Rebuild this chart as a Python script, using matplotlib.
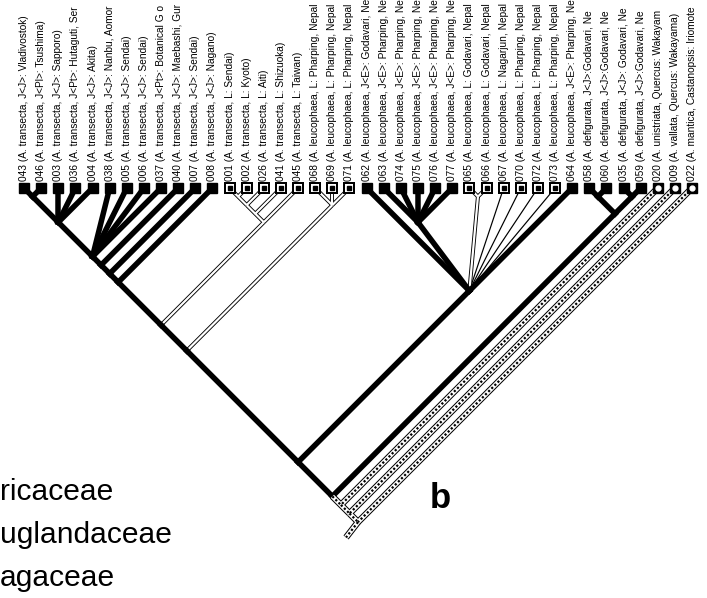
import numpy as np
import matplotlib.pyplot as plt

# leaves, left to right
ids = ['043', '046', '003', '036', '004', '038', '005', '006', '037', '040',
       '007', '008', '001', '002', '026', '041', '045', '068', '069', '071',
       '062', '063', '074', '075', '076', '077', '065', '066', '067', '070',
       '072', '073', '064', '058', '060', '035', '059', '020', '009', '022']
desc = ['A. transecta, J<J>: Vladivostok)', 'A. transecta, J<Pl>: Tsushima)',
        'A. transecta, J<J>: Sapporo)', 'A. transecta, J<Pt>: Hutaguti, Ser',
        'A. transecta, J<J>: Akita)', 'A. transecta, J<J>: Nanbu, Aomor',
        'A. transecta, J<J>: Sendai)', 'A. transecta, J<J>: Sendai)',
        'A. transecta, J<Pt>: Botanical G o', 'A. transecta, J<J>: Maebashi, Gur',
        'A. transecta, J<J>: Sendai)', 'A. transecta, J<J>: Nagano)',
        'A. transecta, L: Sendai)', 'A. transecta, L: Kyoto)',
        'A. transecta, L: Aiti)', 'A. transecta, L: Shizuoka)',
        'A. transecta, L: Taiwan)', 'A. leucophaea, L: Pharping, Nepal',
        'A. leucophaea, L: Pharping, Nepal', 'A. leucophaea, L: Pharping, Nepal',
        'A. leucophaea, J<E>: Godavari, Ne', 'A. leucophaea, J<E>: Pharping, Ne',
        'A. leucophaea, J<E>: Pharping, Ne', 'A. leucophaea, J<E>: Pharping, Ne',
        'A. leucophaea, J<E>: Pharping, Ne', 'A. leucophaea, J<E>: Pharping, Ne',
        'A. leucophaea, L: Godavari, Nepal', 'A. leucophaea, L: Godavari, Nepal',
        'A. leucophaea, L: Nagarjun, Nepal', 'A. leucophaea, L: Pharping, Nepal',
        'A. leucophaea, L: Pharping, Nepal', 'A. leucophaea, L: Pharping, Nepal',
        'A. leucophaea, J<E>: Pharping, Ne', 'A. defigurata, J<J>:Godavari, Ne',
        'A. defigurata, J<J>:Godavari, Ne', 'A. defigurata, J<J>: Godavari, Ne',
        'A. defigurata, J<J>:Godavari, Ne', 'A. unistriata, Quercus: Wakayam',
        'A. vallata, Quercus: Wakayama)', 'A. mantica, Castanopsis: Iriomote']

# topology
clade_a = '((043,046),003,036,004)'
clade_e = '((((' + clade_a + ',038,005,006,037),040),007),008)'
clade_tl = '((((001,002),026),041),045)'
clade_lp = '(068,069,071)'
clade_lj = '(062,(063,074,075,076,077),(065,066),067,070,072,073,064)'
clade_df = '((058,060),(035,059))'
ingroup = '((((' + clade_e + ',' + clade_tl + '),' + clade_lp + '),' + clade_lj + '),' + clade_df + ')'
newick = '(((' + ingroup + ',020),009),022)'

hollow = {'001', '002', '026', '041', '045', '068', '069', '071', '065', '066'}
thin = {'067', '070', '072', '073'}
checker = {'020', '009', '022'}

families = ['ricaceae', 'uglandaceae', 'agaceae']


def parse(s, i=0):
    if s[i] == '(':
        kids = []
        i += 1
        while True:
            k, i = parse(s, i)
            kids.append(k)
            if s[i] == ',':
                i += 1
            else:
                i += 1
                break
        return kids, i
    j = i
    while j < len(s) and s[j] not in ',()':
        j += 1
    return s[i:j], j


def leaves(node):
    if isinstance(node, str):
        return [node]
    out = []
    for k in node:
        out += leaves(k)
    return out


def pos(node):
    idx = [ids.index(n) for n in leaves(node)]
    l, r = min(idx), max(idx)
    return (l + r) / 2.0, (r - l) / 2.0


def style(node, parent):
    lv = set(leaves(node))
    if lv <= checker or (set(leaves(parent)) & checker):
        return 'checker'
    if lv <= hollow:
        return 'hollow'
    if lv <= thin:
        return 'thin'
    return 'thick'


tree, _ = parse(newick)
edges = []


def walk(node):
    if isinstance(node, str):
        return
    for k in node:
        edges.append((pos(k), pos(node), style(k, node)))
        walk(k)


walk(tree)
rx, rd = pos(tree)
edges.append(((rx, rd), (rx - 0.7, rd + 0.9), 'checker'))

W, H = 707, 598
u = 17.13
fig = plt.figure(figsize=(W / 100, H / 100), dpi=100)
ax = fig.add_axes([0, 0, 1, 1])
ax.set_xlim(-24 / u, (W - 24) / u)
ax.set_ylim((H - 188) / u, -188 / u)
ax.axis('off')

px = 72 / 100
for (a, b, st) in edges:
    xs, ys = [a[0], b[0]], [a[1], b[1]]
    if st == 'thick':
        ax.plot(xs, ys, color='black', lw=5.5 * px, solid_capstyle='projecting', zorder=3)
    elif st == 'thin':
        ax.plot(xs, ys, color='black', lw=1.2 * px, zorder=2)
for (a, b, st) in edges:
    xs, ys = [a[0], b[0]], [a[1], b[1]]
    if st == 'hollow':
        ax.plot(xs, ys, color='black', lw=4 * px, solid_capstyle='butt', zorder=2)
for (a, b, st) in edges:
    xs, ys = [a[0], b[0]], [a[1], b[1]]
    if st == 'hollow':
        ax.plot(xs, ys, color='white', lw=2.2 * px, solid_capstyle='butt', zorder=2.1)
for (a, b, st) in edges:
    xs, ys = [a[0], b[0]], [a[1], b[1]]
    if st == 'checker':
        ax.plot(xs, ys, color='black', lw=6.5 * px, solid_capstyle='butt', zorder=4)
        ax.plot(xs, ys, color='white', lw=4.5 * px, solid_capstyle='butt', zorder=4.1)
        ax.plot(xs, ys, color='black', lw=2.2 * px, dashes=(1, 1), solid_capstyle='butt', zorder=4.2)

# leaf boxes and labels
for i, (n, d) in enumerate(zip(ids, desc)):
    if n in checker:
        ax.plot(i, 0, 's', ms=7, mfc='black', mec='black', zorder=6)
        ax.plot(i, 0, 'o', ms=3.5, mfc='white', mec='white', zorder=7)
    elif n in hollow or n in thin:
        ax.plot(i, 0, 's', ms=7, mfc='white', mec='black', mew=2 * px, zorder=6)
        ax.plot(i, 0, 's', ms=2.2, mfc='black', mec='black', zorder=7)
    else:
        ax.plot(i, 0, 's', ms=7, mfc='black', mec='black', zorder=6)
    ax.text(i, -0.42, n + ' (' + d, rotation=90, ha='center', va='bottom',
            fontsize=7.3, family='Liberation Sans', zorder=8)

for fam, yb in zip(families, [500, 543, 586]):
    fig.text(0, 1 - yb / H, fam, fontsize=21.6, family='Liberation Sans',
             ha='left', va='baseline')
fig.text(430 / W, 1 - 508 / H, 'b', fontsize=25, family='Liberation Sans',
         weight='bold', ha='left', va='baseline')

fig.savefig('out.png', dpi=100, facecolor='white')
